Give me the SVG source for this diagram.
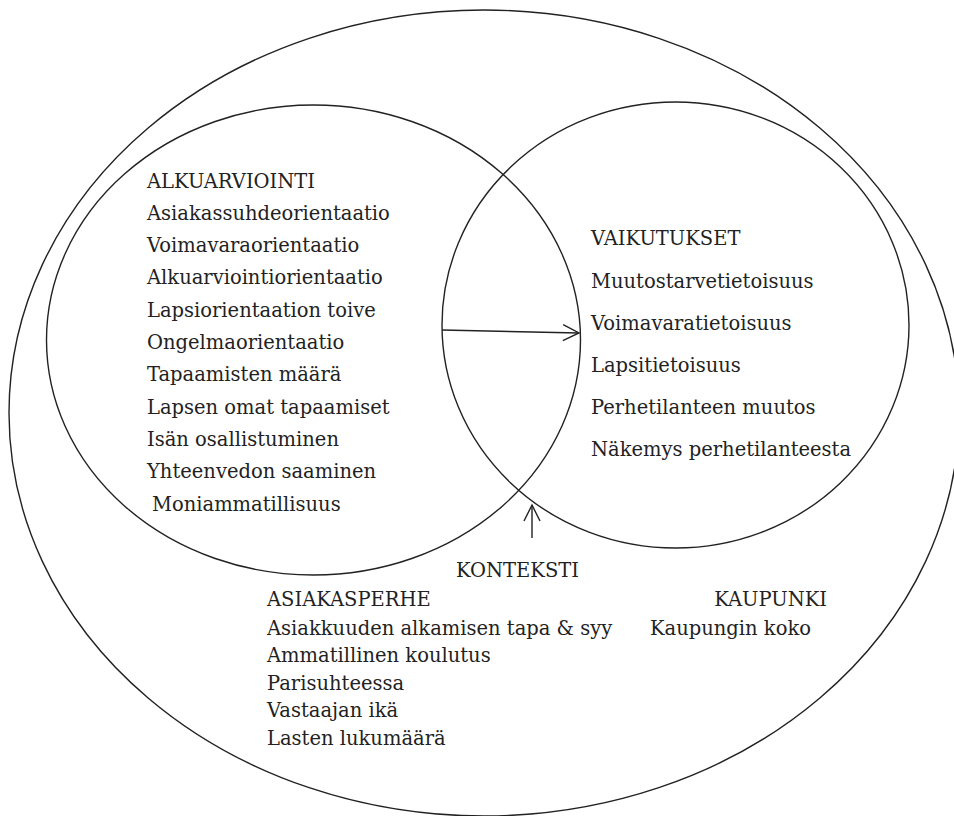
<svg xmlns="http://www.w3.org/2000/svg" width="954" height="816" viewBox="0 0 954 816">
<style>
.c{fill:none;stroke:#222;stroke-width:1.4}
.t{font-family:"DejaVu Serif","Liberation Serif",serif;font-size:19.5px;fill:#222}
.l{fill:none;stroke:#222;stroke-width:1.4}
</style>
<defs>
<marker id="ah" viewBox="0 0 20 20" refX="18" refY="10" markerWidth="20" markerHeight="20" markerUnits="userSpaceOnUse" orient="auto">
<path d="M2,2 L18,10 L2,18" fill="none" stroke="#222" stroke-width="1.4"/>
</marker>
</defs>
<rect width="954" height="816" fill="#fff"/>
<g id="konteksti">
<ellipse class="c" cx="484" cy="413" rx="475" ry="403"/>
<text class="t" x="456" y="577">KONTEKSTI</text>
<text class="t" x="267" y="606">ASIAKASPERHE</text>
<text class="t" x="267" y="635">Asiakkuuden alkamisen tapa &amp; syy</text>
<text class="t" x="267" y="662">Ammatillinen koulutus</text>
<text class="t" x="267" y="690">Parisuhteessa</text>
<text class="t" x="267" y="717">Vastaajan ikä</text>
<text class="t" x="267" y="745">Lasten lukumäärä</text>
<text class="t" x="827" y="606" text-anchor="end">KAUPUNKI</text>
<text class="t" x="650" y="635">Kaupungin koko</text>
</g>
<g id="alkuarviointi">
<ellipse class="c" cx="313.5" cy="340" rx="267" ry="235"/>
<text class="t" x="147" y="188">ALKUARVIOINTI</text>
<text class="t" x="147" y="220">Asiakassuhdeorientaatio</text>
<text class="t" x="147" y="252">Voimavaraorientaatio</text>
<text class="t" x="147" y="284">Alkuarviointiorientaatio</text>
<text class="t" x="147" y="317">Lapsiorientaation toive</text>
<text class="t" x="147" y="349">Ongelmaorientaatio</text>
<text class="t" x="147" y="381">Tapaamisten määrä</text>
<text class="t" x="147" y="414">Lapsen omat tapaamiset</text>
<text class="t" x="147" y="446">Isän osallistuminen</text>
<text class="t" x="147" y="478">Yhteenvedon saaminen</text>
<text class="t" x="152" y="511">Moniammatillisuus</text>
</g>
<g id="vaikutukset">
<ellipse class="c" cx="675.5" cy="325" rx="233.5" ry="223"/>
<text class="t" x="591" y="245">VAIKUTUKSET</text>
<text class="t" x="591" y="288">Muutostarvetietoisuus</text>
<text class="t" x="591" y="330">Voimavaratietoisuus</text>
<text class="t" x="591" y="372">Lapsitietoisuus</text>
<text class="t" x="591" y="414">Perhetilanteen muutos</text>
<text class="t" x="591" y="456">Näkemys perhetilanteesta</text>
</g>
<g id="connectors">
<line class="l" x1="442" y1="330" x2="579" y2="333" marker-end="url(#ah)"/>
<line class="l" x1="532" y1="538" x2="532" y2="505" marker-end="url(#ah)"/>
</g>
</svg>
